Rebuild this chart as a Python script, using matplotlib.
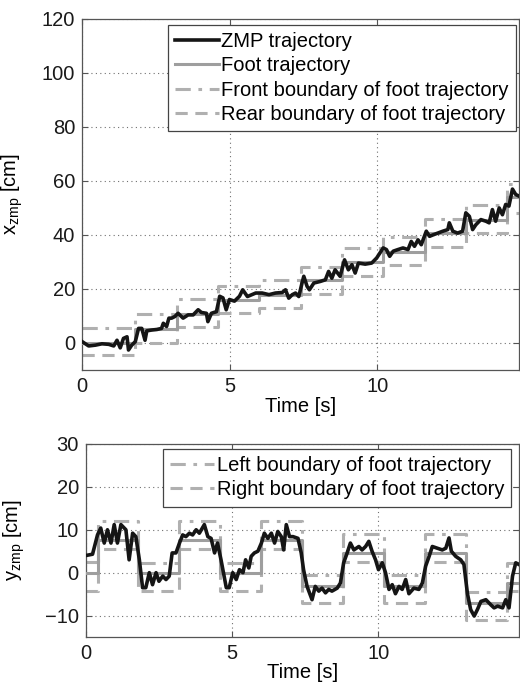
import matplotlib
matplotlib.use("Agg")
import matplotlib.pyplot as plt

plt.rcParams['font.family'] = ['Liberation Sans', 'DejaVu Sans']
plt.rcParams['mathtext.fontset'] = 'custom'
plt.rcParams['mathtext.rm'] = 'Liberation Sans'
plt.rcParams['mathtext.it'] = 'Liberation Sans:italic'

# ---------------- data: sagittal (x) ----------------
step_t = [0, 1.8, 3.2, 4.6, 6.0, 7.4, 8.8, 10.2, 11.6, 13.0, 14.4, 14.8]
foot_x = [0, 5.1, 10.7, 16.0, 17.7, 23.2, 29.9, 33.8, 40.9, 45.7, 54, 54]
front_x = [5.5, 10.6, 16.3, 21.0, 23.2, 28.0, 35.0, 39.3, 46.0, 51.0, 59, 59]
rear_x = [-4.6, 0, 6.1, 11.0, 13.0, 18.0, 24.8, 28.9, 35.7, 40.6, 48, 48]

zmp_x_t = [0, 0.22, 0.45, 0.67, 0.9, 1.07, 1.18, 1.29, 1.4, 1.52, 1.57, 1.68, 1.8,
           1.91, 2.02, 2.13, 2.19, 2.36, 2.53, 2.69, 2.75, 2.86, 2.94, 3.03, 3.14,
           3.25, 3.42, 3.59, 3.76, 3.93, 4.04, 4.21, 4.26, 4.38, 4.55, 4.66, 4.77,
           4.88, 4.99, 5.16, 5.33, 5.44, 5.6, 5.88, 6.1, 6.33, 6.55, 6.78, 6.89,
           7.0, 7.12, 7.23, 7.34, 7.45, 7.51, 7.62, 7.7, 7.85, 8.07, 8.24, 8.35,
           8.46, 8.57, 8.74, 8.89, 9.02, 9.14, 9.25, 9.36, 9.59, 9.81, 9.98, 10.2,
           10.31, 10.42, 10.54, 10.7, 10.87, 11.04, 11.15, 11.26, 11.38, 11.49,
           11.66, 11.77, 11.88, 12.05, 12.22, 12.39, 12.44, 12.56, 12.72, 12.89,
           13.0, 13.12, 13.23, 13.34, 13.51, 13.68, 13.79, 13.9, 14.01, 14.13,
           14.24, 14.35, 14.46, 14.58, 14.69, 14.8]
zmp_x = [0.5, -1.1, -0.8, -0.3, -0.5, -1.1, 1.0, -1.8, 1.7, 2.3, -2.6, -0.8, 0.5,
         5.4, 5.4, 1.0, 4.5, 4.8, 5.0, 5.4, 7.3, 6.1, 9.2, 9.2, 9.8,
         11.0, 9.2, 10.4, 10.4, 12.3, 11.3, 11.0, 7.9, 11.0, 11.6, 17.3, 16.7,
         12.3, 16.1, 15.5, 17.3, 19.7, 17.2, 18.5, 18.5, 17.9, 18.5, 18.7, 19.7,
         16.6, 17.9, 18.5, 17.2, 22.2, 24.7, 21.0, 19.7, 22.2, 22.8, 23.4, 26.5,
         24.0, 27.1, 24.7, 30.8, 27.1, 29.0, 25.9, 29.6, 29.2, 29.6, 31.5, 35.2,
         34.6, 32.1, 34.0, 34.6, 35.2, 34.6, 37.6, 35.8, 38.2, 36.4,
         41.4, 39.5, 40.0, 40.7, 41.4, 42.0, 44.5, 41.4, 40.7, 41.4,
         48.2, 46.9, 42.0, 43.8, 45.7, 45.1, 44.5, 49.4, 45.1, 50.0,
         47.5, 51.3, 50.7, 57.0, 55.0, 54.4]

# ---------------- data: lateral (y) ----------------
step_ty = [0, 0.4, 1.8, 3.2, 4.6, 6.0, 7.4, 8.8, 10.2, 11.6, 13.0, 14.4, 14.8]
foot_y = [0, 7.5, 0, 7.5, 0, 7.5, -3, 4.5, -3, 4.5, -7, -2.3, -2.3]
left_y = [2.4, 12, 2.3, 12, 2.3, 12, -0.5, 8.9, -0.5, 8.9, -4.5, 2.2, 2.2]
right_y = [-4.3, 5.5, -4.3, 5.5, -4.3, 5.5, -7, 2.4, -7, 2.4, -11, -4.3, -4.3]

zmp_y_t = [0, 0.23, 0.4, 0.51, 0.63, 0.74, 0.86, 0.97, 1.08, 1.2, 1.37, 1.48, 1.6,
           1.71, 1.83, 1.94, 2.05, 2.17, 2.28, 2.4, 2.5, 2.63, 2.74, 2.85, 2.95,
           3.08, 3.2, 3.31, 3.42, 3.54, 3.65, 3.77, 3.88, 4.05, 4.17, 4.28, 4.4,
           4.5, 4.62, 4.8, 4.9, 5.02, 5.14, 5.25, 5.37, 5.46, 5.57, 5.65, 5.76,
           5.88, 6.0, 6.1, 6.22, 6.34, 6.45, 6.56, 6.68, 6.76, 6.85, 6.96, 7.08,
           7.25, 7.36, 7.44, 7.56, 7.73, 7.84, 7.96, 8.07, 8.19, 8.3, 8.41, 8.59,
           8.7, 8.81, 8.93, 9.04, 9.16, 9.33, 9.44, 9.56, 9.67, 9.78, 9.9, 10.0,
           10.13, 10.24, 10.36, 10.47, 10.58, 10.7, 10.81, 10.93, 11.04, 11.21,
           11.38, 11.5, 11.61, 11.73, 11.84, 12.01, 12.18, 12.3, 12.41, 12.49,
           12.64, 12.81, 12.92, 13.04, 13.15, 13.27, 13.38, 13.5, 13.67, 13.84,
           13.95, 14.07, 14.24, 14.35, 14.46, 14.58, 14.69, 14.8]
zmp_y = [4.0, 4.3, 8.8, 10.4, 6.9, 10.0, 6.9, 11.2, 6.9, 11.2, 10.0, 3.0, 9.2,
         8.4, 3.0, -3.5, -3.5, 0.0, -2.8, 0.0, -2.0, -0.8, -1.6, -0.8, 4.6,
         4.6, 6.9, 8.8, 8.4, 9.2, 8.8, 10.0, 9.2, 11.2, 8.4, 8.0, 4.6,
         6.9, 3.0, -3.5, -3.5, 0.0, -1.6, 0.7, 0.0, 3.0, 1.1, 3.8, 4.6,
         5.0, 6.9, 9.2, 8.0, 9.2, 6.9, 9.6, 8.4, 5.3, 11.2, 8.4, 8.4,
         8.0, 4.6, 0.7, -3.2, -6.3, -3.2, -4.3, -3.6, -4.7, -3.9, -4.3, -3.6,
         -2.4, 2.3, 4.6, 6.9, 5.3, 6.1, 5.3, 6.1, 7.3, 5.0, 3.0, 0.7,
         2.3, 0.0, -3.9, -2.8, -4.9, -3.2, -3.9, -1.6, -4.9, -3.6,
         -3.9, -2.4, 1.5, 3.8, 6.1, 5.7, 5.3, 5.7, 8.1, 5.0,
         3.8, 3.0, 1.9, -4.9, -8.6, -10.1, -8.6, -6.7, -6.3, -7.5,
         -8.2, -7.8, -8.2, -6.3, -8.2, -0.8, 2.3, 1.9]

# ---------------- styles ----------------
c_zmp = '#151515'
c_foot = '#9e9e9e'
c_bound = '#b0b0b0'
spine_c = '#555555'
fs = 14.5

fig = plt.figure(figsize=(5.2, 6.83), dpi=100)
ax1 = fig.add_axes([0.158, 0.4583, 0.840, 0.5139])
ax2 = fig.add_axes([0.165, 0.0673, 0.833, 0.2827])


def style(ax):
    for s in ax.spines.values():
        s.set_color(spine_c)
        s.set_linewidth(0.9)
    ax.tick_params(direction='in', length=4, width=0.8, colors=spine_c,
                   labelcolor='#1a1a1a', labelsize=fs, pad=5,
                   top=True, right=True)
    ax.grid(True, linestyle=(0, (1, 3)), color='#707070', linewidth=0.8)
    ax.set_axisbelow(True)


leg_kw = dict(fontsize=fs, handlelength=2.2, handletextpad=0.12,
              labelspacing=0.27, borderpad=0.35, borderaxespad=0,
              fancybox=False, framealpha=1, edgecolor='#444444')

# top
ax1.plot(zmp_x_t, zmp_x, color=c_zmp, lw=2.6, label='ZMP trajectory', zorder=4)
ax1.step(step_t, foot_x, where='post', color=c_foot, lw=2.2,
         label='Foot trajectory', zorder=3)
ax1.step(step_t, front_x, where='post', color=c_bound, lw=2.2,
         linestyle=(0, (5, 2.5, 1.2, 2.5)),
         label='Front boundary of foot trajectory', zorder=2)
ax1.step(step_t, rear_x, where='post', color=c_bound, lw=2.2,
         linestyle=(0, (4, 2.5)),
         label='Rear boundary of foot trajectory', zorder=2)
ax1.set_xlim(0, 14.8)
ax1.set_ylim(-10, 120)
ax1.set_xticks([0, 5, 10])
ax1.set_yticks([0, 20, 40, 60, 80, 100, 120])
style(ax1)
ax1.set_xlabel('Time [s]', fontsize=fs, labelpad=1)
ax1.set_ylabel(r'x$_{\mathrm{zmp}}$ [cm]', fontsize=fs)
ax1.yaxis.set_label_coords(-0.13, 0.5)
leg1 = ax1.legend(loc='upper right', bbox_to_anchor=(0.993, 0.983), **leg_kw)
leg1.get_frame().set_linewidth(0.9)

# bottom
ax2.plot(zmp_y_t, zmp_y, color=c_zmp, lw=2.6, zorder=4)
ax2.step(step_ty, foot_y, where='post', color=c_foot, lw=2.2, zorder=3)
ax2.step(step_ty, left_y, where='post', color=c_bound, lw=2.2,
         linestyle=(0, (5, 2.5, 1.2, 2.5)),
         label='Left boundary of foot trajectory', zorder=2)
ax2.step(step_ty, right_y, where='post', color=c_bound, lw=2.2,
         linestyle=(0, (4, 2.5)),
         label='Right boundary of foot trajectory', zorder=2)
ax2.set_xlim(0, 14.8)
ax2.set_ylim(-15, 30)
ax2.set_xticks([0, 5, 10])
ax2.set_yticks([-10, 0, 10, 20, 30])
style(ax2)
ax2.set_xlabel('Time [s]', fontsize=fs, labelpad=0)
ax2.set_ylabel(r'y$_{\mathrm{zmp}}$ [cm]', fontsize=fs)
ax2.yaxis.set_label_coords(-0.135, 0.5)
leg2 = ax2.legend(loc='upper right', bbox_to_anchor=(0.982, 0.974), **leg_kw)
leg2.get_frame().set_linewidth(0.9)

fig.savefig('out.png', dpi=100)
